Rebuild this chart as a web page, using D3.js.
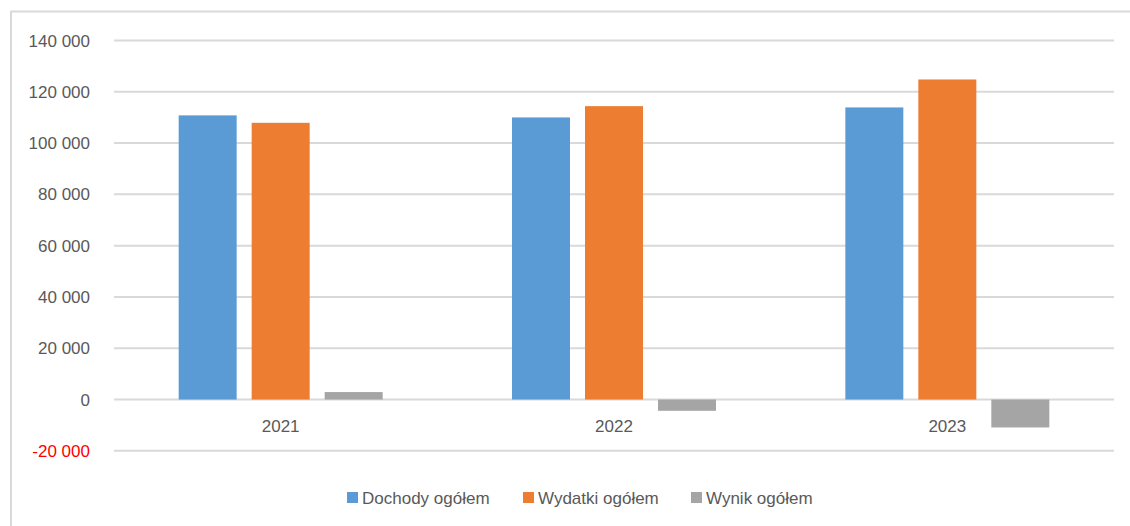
<!DOCTYPE html>
<html><head><meta charset="utf-8">
<script src="https://cdn.jsdelivr.net/npm/d3@7"></script>
<style>body{margin:0;background:#fff}svg{display:block;font-family:"Liberation Sans",Arial,sans-serif}</style>
</head><body><svg id="c" width="1130" height="526"></svg>
<script>
const categories = ["2021", "2022", "2023"];
const seriesNames = ["Dochody ogółem", "Wydatki ogółem", "Wynik ogółem"];
const dochody = [110800, 110000, 113900];
const wydatki = [107900, 114400, 124800];
const wynik = [2900, -4400, -10900];
const yTicks = [-20000, 0, 20000, 40000, 60000, 80000, 100000, 120000, 140000];
const colors = ["#5b9bd5", "#ed7d31", "#a5a5a5"];

const series = [dochody, wydatki, wynik];
const svg = d3.select("#c");
// outer frame
svg.append("line").attr("x1",10).attr("x2",1130).attr("y1",11.5).attr("y2",11.5).attr("stroke","#d9d9d9").attr("stroke-width",2);
svg.append("line").attr("x1",11).attr("x2",11).attr("y1",11).attr("y2",526).attr("stroke","#d9d9d9").attr("stroke-width",2);

const x0 = d3.scaleBand().domain(categories).range([114, 1114]).paddingInner(0).paddingOuter(0);
const y = d3.scaleLinear().domain([-20000, 140000]).range([450.8, 40.5]);
const fmt = v => d3.format(",")(v).replace(/,/g, " ").replace("\u2212", "-");

const g = svg.append("g");
g.selectAll("line.grid").data(yTicks).join("line")
  .attr("x1", 114).attr("x2", 1114)
  .attr("y1", d => y(d)).attr("y2", d => y(d))
  .attr("stroke", "#d9d9d9").attr("stroke-width", 2);
g.selectAll("text.yl").data(yTicks).join("text")
  .attr("x", 90).attr("y", d => y(d)).attr("dy", "0.36em")
  .attr("text-anchor", "end").attr("font-size", 17)
  .attr("fill", d => d < 0 ? "#ff0000" : "#595959")
  .text(d => fmt(d));

const barW = 58, gap = 15;
const x1 = d3.scaleBand().domain(seriesNames).range([0, barW*3 + gap*2]).paddingInner(gap/(barW+gap)).paddingOuter(0);
categories.forEach((c, i) => {
  const cx = x0(c) + x0.bandwidth()/2 - (barW*3 + gap*2)/2;
  series.forEach((s, j) => {
    const v = s[i];
    g.append("rect")
      .attr("x", cx + x1(seriesNames[j]))
      .attr("width", x1.bandwidth())
      .attr("y", y(Math.max(0, v)))
      .attr("height", Math.abs(y(v) - y(0)))
      .attr("fill", colors[j]);
  });
  g.append("text").attr("x", x0(c) + x0.bandwidth()/2).attr("y", 432)
    .attr("text-anchor", "middle").attr("font-size", 17).attr("fill", "#595959").text(c);
});

const legX = [347, 523, 691];
seriesNames.forEach((n, j) => {
  svg.append("rect").attr("x", legX[j]).attr("y", 492).attr("width", 11).attr("height", 11).attr("fill", colors[j]);
  svg.append("text").attr("x", legX[j] + 15).attr("y", 504).attr("font-size", 17).attr("fill", "#595959").text(n);
});
</script></body></html>
